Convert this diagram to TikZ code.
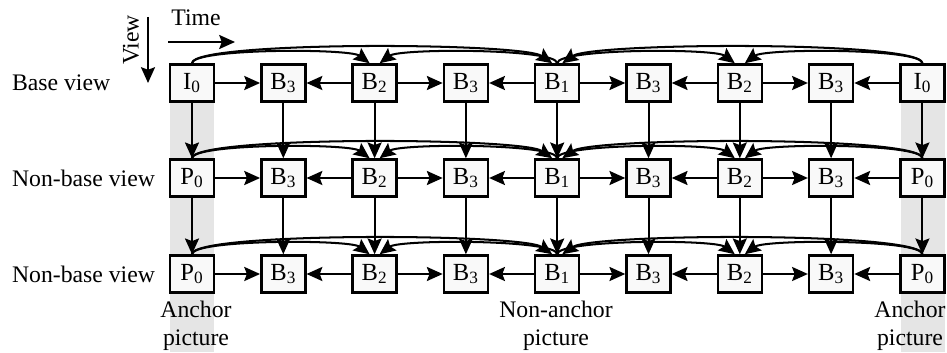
\documentclass[tikz,border=0pt]{standalone}
\usepackage{fontspec}
\setmainfont{Liberation Serif}
\usetikzlibrary{arrows.meta,positioning,calc}
\tikzset{
    >={Stealth[length=9pt,width=8pt,inset=1.5pt]},
    every picture/.style={line width=1.15pt},
    frame/.style={draw,line width=1.4pt,fill=gray!5,minimum width=0.88cm,minimum height=0.74cm,inner sep=0pt,font=\fontsize{14}{15}\selectfont},
    lbl/.style={font=\fontsize{13.5}{16}\selectfont,align=center,inner sep=0pt}
}

\begin{document}
\begin{tikzpicture}
    \useasboundingbox (0,0) rectangle (18.94,7.04);

    % anchor columns
    \fill[gray!20] (3.40,0) rectangle (4.28,5.01);
    \fill[gray!20] (18.01,0) rectangle (18.89,5.01);

    % frames: row r, column c
    \foreach \r/\y/\k in {1/5.38/I,2/3.48/P,3/1.56/P} {
        \foreach \c/\n in {1/0,2/3,3/2,4/3,5/1,6/3,7/2,8/3,9/0} {
            \node[frame] (f\r-\c) at ({3.84+(\c-1)*1.826},\y) {\ifnum\n=0 \k\else B\fi\textsubscript{\n}};
        }
    }

    % inter-view prediction
    \foreach \c in {1,...,9} {
        \draw[->] (f1-\c) -- (f2-\c);
        \draw[->] (f2-\c) -- (f3-\c);
    }

    \foreach \r in {1,2,3} {
        % neighbours
        \foreach \a/\b in {1/2,3/2,3/4,5/4,5/6,7/6,7/8,9/8}
            \draw[->] (f\r-\a) -- (f\r-\b);
        % short arcs
        \foreach \a/\b in {1/3,5/7}
            \draw[->] (f\r-\a.north) .. controls +(0,0.3) and +(-0.4,0.3) .. ([xshift=-0.1cm]f\r-\b.north);
        \foreach \a/\b in {5/3,9/7}
            \draw[->] (f\r-\a.north) .. controls +(0,0.3) and +(0.4,0.3) .. ([xshift=0.1cm]f\r-\b.north);
        % long arcs
        \draw[->] (f\r-1.north) .. controls +(0,0.45) and +(-0.6,0.42) .. ([xshift=-0.1cm]f\r-5.north);
        \draw[->] (f\r-9.north) .. controls +(0,0.45) and +(0.6,0.42) .. ([xshift=0.1cm]f\r-5.north);
    }

    % row names
    \node[lbl,anchor=west] (v1) at (0.22,5.38) {Base view};
    \node[lbl,anchor=west] (v2) at (0.22,3.48) {Non-base view};
    \node[lbl,anchor=west] (v3) at (0.22,1.56) {Non-base view};

    % axes
    \node[lbl] (time) at (3.92,6.68) {Time};
    \coordinate (t0) at (3.36,6.20);
    \coordinate (t1) at (4.70,6.20);
    \draw[->] (t0) -- (t1);
    \node[lbl,rotate=90] (view) at (2.62,6.24) {View};
    \coordinate (w0) at (2.96,6.70);
    \coordinate (w1) at (2.96,5.38);
    \draw[->] (w0) -- (w1);

    % picture types
    \node[lbl] (anc1) at (3.92,0.52) {Anchor\\picture};
    \node[lbl] (nanc) at (11.12,0.52) {Non-anchor\\picture};
    \node[lbl] (anc2) at (18.20,0.52) {Anchor\\picture};
\end{tikzpicture}
\end{document}
